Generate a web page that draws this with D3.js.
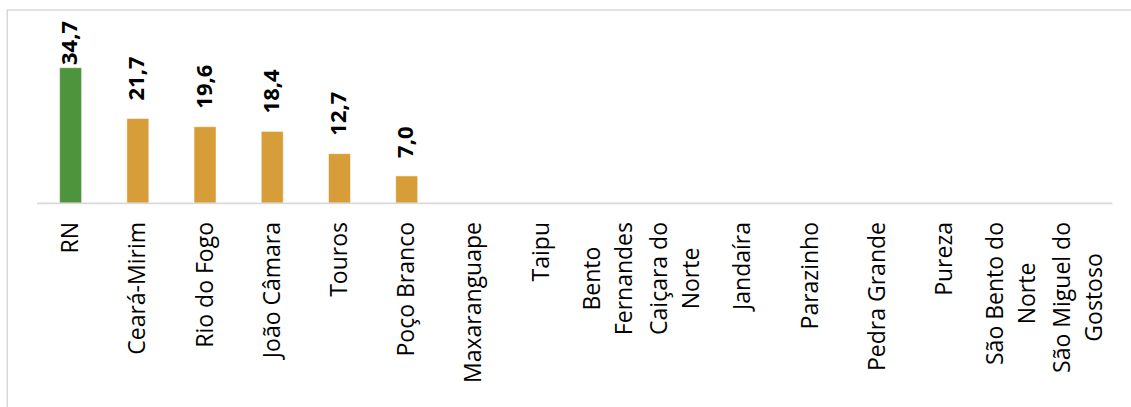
<!DOCTYPE html>
<html>
<head>
<meta charset="utf-8">
<script src="https://cdn.jsdelivr.net/npm/d3@7"></script>
<style>
  html, body { margin: 0; padding: 0; background: #fff; }
  svg { display: block; }
</style>
</head>
<body>
<svg id="chart" width="1131" height="407"></svg>
<script>
// ---- data ----
const categories = ["RN", "Ceará-Mirim", "Rio do Fogo", "João Câmara", "Touros", "Poço Branco",
  "Maxaranguape", "Taipu", "Bento Fernandes", "Caiçara do Norte", "Jandaíra", "Parazinho",
  "Pedra Grande", "Pureza", "São Bento do Norte", "São Miguel do Gostoso"];
const values = [34.7, 21.7, 19.6, 18.4, 12.7, 7.0, null, null, null, null, null, null, null, null, null, null];
const tickLabels = [["RN"], ["Ceará-Mirim"], ["Rio do Fogo"], ["João Câmara"], ["Touros"], ["Poço Branco"],
  ["Maxaranguape"], ["Taipu"], ["Bento", "Fernandes"], ["Caiçara do", "Norte"], ["Jandaíra"], ["Parazinho"],
  ["Pedra Grande"], ["Pureza"], ["São Bento do", "Norte"], ["São Miguel do", "Gostoso"]];
const highlight = ["RN"];

// ---- layout ----
const W = 1131, H = 407;
const plot = { left: 37, right: 1112.5, top: 21, base: 203.3 };
const colorMain = "#D69D38", colorHi = "#4E943C";

const svg = d3.select("#chart");

// outer chart border
svg.append("rect")
  .attr("x", 7.25).attr("y", 10).attr("width", W).attr("height", H)
  .attr("fill", "none").attr("stroke", "#d9d9d9").attr("stroke-width", 1.5);

const x = d3.scaleBand().domain(categories)
  .range([plot.left, plot.right])
  .paddingInner(0.673).paddingOuter(0.3365);

const y = d3.scaleLinear().domain([0, 35]).range([plot.base, plot.base - 35 * 3.908]);

// bars
const data = categories.map((c, i) => ({ c, v: values[i], lines: tickLabels[i] }));
svg.append("g").selectAll("rect").data(data.filter(d => d.v != null)).join("rect")
  .attr("x", d => x(d.c))
  .attr("width", x.bandwidth())
  .attr("y", d => y(d.v))
  .attr("height", d => y(0) - y(d.v))
  .attr("fill", d => highlight.includes(d.c) ? colorHi : colorMain)
  .attr("stroke", "#fff").attr("stroke-opacity", 0.5).attr("stroke-width", 1);

// baseline axis line
svg.append("line")
  .attr("x1", plot.left).attr("x2", plot.right)
  .attr("y1", plot.base).attr("y2", plot.base)
  .attr("stroke", "#d9d9d9").attr("stroke-width", 1.75);

// value labels
const fmt = v => d3.format(".1f")(v).replace(".", ",");
svg.append("g").selectAll("text").data(data.filter(d => d.v != null)).join("text")
  .text(d => fmt(d.v))
  .attr("font-family", "'Open Sans', sans-serif")
  .attr("font-weight", 700)
  .attr("font-size", 22)
  .attr("fill", "#000")
  .attr("text-anchor", "start")
  .attr("y", 6.5)
  .each(function (d) {
    const len = this.getComputedTextLength();
    const cx = x(d.c) + x.bandwidth() / 2;
    const y0 = Math.max(y(d.v) - 18, plot.top + len);
    d3.select(this).attr("transform", `translate(${cx},${y0}) rotate(-90)`);
  });

// category labels (rotated, multi-line centered)
const labelTop = 222, lineGap = 32, baseOff = 7.5;
const lg = svg.append("g");
data.forEach(d => {
  const cx = x(d.c) + x.bandwidth() / 2;
  const g = lg.append("g");
  const texts = d.lines.map((ln, k) => g.append("text")
    .text(ln)
    .attr("font-family", "'Open Sans', sans-serif")
    .attr("font-size", 23)
    .attr("fill", "#000")
    .attr("text-anchor", "middle")
    .attr("y", baseOff + (k - (d.lines.length - 1) / 2) * lineGap));
  const maxLen = d3.max(texts, t => t.node().getComputedTextLength());
  g.attr("transform", `translate(${cx},${labelTop + maxLen / 2}) rotate(-90)`);
});
</script>
</body>
</html>
